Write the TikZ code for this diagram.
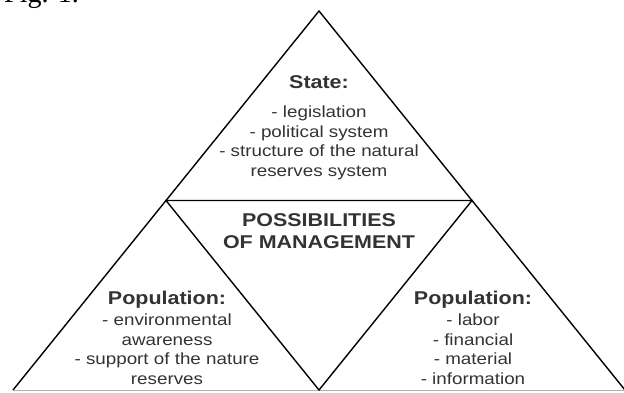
\documentclass[tikz,border=0pt]{standalone}
\usepackage{fontspec}
\usetikzlibrary{calc}
\setmainfont{Liberation Sans}
\newfontfamily\figf{Liberation Serif}
\newfontfamily\widef[FakeStretch=1.16]{Liberation Sans}
\definecolor{txt}{HTML}{333333}
\begin{document}
\begin{tikzpicture}[x=1pt,y=-1pt,
  edge/.style={black,line width=1.4pt,line join=miter},
  base/.style={gray!60,line width=1pt},
  head/.style={font=\widef\fontsize{18.5}{22}\selectfont\bfseries,text=txt,inner sep=0pt},
  list/.style={font=\widef\fontsize{16.2}{19.5}\selectfont,text=txt,align=center,inner sep=0pt}]
\useasboundingbox (0,0) rectangle (624,392);
\fill[white] (0,0) rectangle (624,392);
% caption, cut by the top edge
\node[anchor=base west,font=\figf\fontsize{28}{28}\selectfont,inner sep=0pt] (fig) at (4,2) {Fig. 1.};
% vertices
\coordinate (apex) at (319,11);
\coordinate (bl) at (13,390);
\coordinate (br) at (625,390);
\coordinate (ml) at ($(apex)!0.5!(bl)$);
\coordinate (mr) at ($(apex)!0.5!(br)$);
\coordinate (mb) at (319,390);
% outline
\draw[base] (bl) -- (br);
\draw[edge] (bl) -- (apex) -- (br);
\draw[edge] (ml) -- (mr) -- (mb) -- cycle;
% texts
\node[head] (state) at (319,82) {State:};
\node[list] (statelist) at (319,143) {- legislation\\- political system\\- structure of the natural\\reserves system};
\node[head,align=center] (poss) at (319,231) {POSSIBILITIES\\[-0.5pt]OF MANAGEMENT};
\node[head] (popl) at (167,300) {Population:};
\node[list] (popllist) at (167,349) {- environmental\\awareness\\- support of the nature\\reserves};
\node[head] (popr) at (473,300) {Population:};
\node[list] (poprlist) at (473,349) {- labor\\- financial\\- material\\- information};
\end{tikzpicture}
\end{document}
